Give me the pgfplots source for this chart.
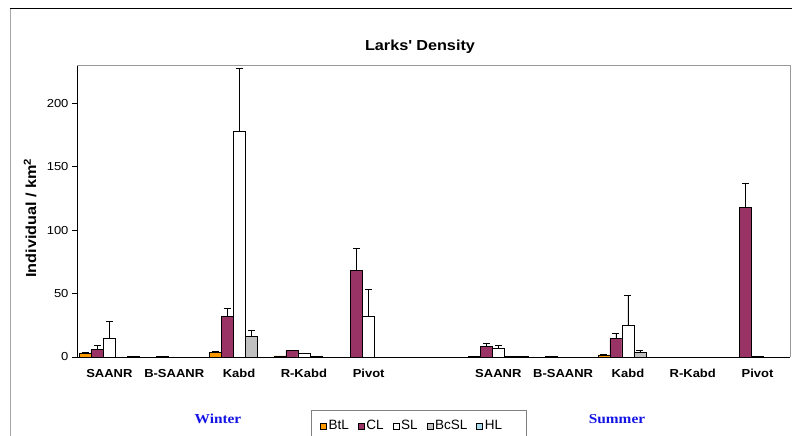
\documentclass[border=0pt]{standalone}
\usepackage{pgfplots}
\pgfplotsset{compat=1.18}
\usepackage{fontspec}
\setmainfont{Liberation Sans}[FakeStretch=1.12]
\newfontfamily\legendfont{Liberation Sans}
\newfontfamily\timesb{Liberation Serif}[FakeStretch=1.12]

\definecolor{btl}{HTML}{FF9900}
\definecolor{cl}{HTML}{993366}
\definecolor{bcsl}{HTML}{C0C0C0}
\definecolor{hl}{HTML}{A8DCEC}
\definecolor{season}{RGB}{20,20,230}

% upward error bars with a cap, as Excel draws them
\pgfplotsset{
  eb/.style={
    error bars/.cd,
      y dir=plus, y explicit,
      error bar style={black, line width=0.7pt},
      error mark options={rotate=90, black, line width=0.7pt, mark size=3.5pt},
  },
}

\begin{document}
\begin{tikzpicture}[x=1pt,y=1pt]
\path[use as bounding box] (0,0) rectangle (792,436);
\begin{scope}
\clip (0,0) rectangle (792,436);
% outer chart frame (cropped)
\draw[gray!70, line width=0.9pt] (10,-10) -- (10,428);
\draw[black, line width=0.9pt] (10,428) -- (800,428);

\node[font=\bfseries\fontsize{14.5}{16}\selectfont] at (420,389) {Larks\textquotesingle\ Density};
\node[rotate=90, font=\bfseries\fontsize{14.5}{16}\selectfont] at (30,218) {Individual / km\textsuperscript{2}};

% legend frame
\draw[gray, line width=0.6pt] (311,-10) rectangle (526,26);

\begin{axis}[
  at={(77pt,79pt)}, anchor=south west,
  width=713pt, height=292pt, scale only axis,
  ybar=0pt, bar width=0.1849,
  xmin=-0.5, xmax=10.5, ymin=0, ymax=230,
  clip=false,
  axis lines*=left,
  axis line style={black, line width=0.8pt},
  xtick={0,1,2,3,4,6,7,8,9,10},
  xticklabels={SAANR,B-SAANR,Kabd,R-Kabd,Pivot,SAANR,B-SAANR,Kabd,R-Kabd,Pivot},
  x tick style={draw=none},
  ytick={0,50,100,150,200},
  y tick style={black, line width=0.8pt},
  tick align=outside, major tick length=5pt,
  xticklabel style={font=\bfseries\fontsize{11.6}{13}\selectfont, yshift=-4pt},
  yticklabel style={font=\fontsize{11.6}{13}\selectfont},
  /pgf/number format/assume math mode=true,
  every axis plot/.append style={
    draw=black, line width=0.6pt,
    legend image code/.code={\draw[##1, line width=0.5pt] (0pt,-3pt) rectangle (6pt,3pt);},
  },
  legend style={
    at={(0.3408,-0.2363)}, anchor=west,
    legend columns=5, draw=none, fill=none,
    inner xsep=0pt, inner ysep=0pt,
    font=\legendfont\fontsize{13.5}{15}\selectfont,
    nodes={inner xsep=0pt, inner ysep=2pt},
    /tikz/every odd column/.append style={column sep=2pt},
    /tikz/every even column/.append style={column sep=9pt},
  },
]
% BtL
\addplot[fill=btl, bar shift=-0.3698, eb] coordinates {
  (0,3.2) +- (0,0.5)
  (2,3.9) +- (0,0.5)
  (8,1.6) +- (0,0.6)
};
\addplot[fill=btl, bar shift=-0.3698, forget plot] coordinates {(3,0.8) (6,0.3)};
% CL
\addplot[fill=cl, bar shift=-0.1849, eb] coordinates {
  (0,5.8) +- (0,3.4)
  (2,32) +- (0,6)
  (4,68.3) +- (0,17.5)
  (6,8.1) +- (0,2.7)
  (8,14.4) +- (0,3.9)
  (10,118) +- (0,19)
};
\addplot[fill=cl, bar shift=-0.1849, forget plot] coordinates {(1,0.3) (3,5.1) (7,0.3)};
% SL
\addplot[fill=white, bar shift=0, eb] coordinates {
  (0,15) +- (0,13.3)
  (2,178) +- (0,49.5)
  (4,32) +- (0,21.3)
  (6,6.5) +- (0,2.7)
  (8,25.2) +- (0,23.4)
};
\addplot[fill=white, bar shift=0, forget plot] coordinates {(3,2.6) (10,0.3)};
% BcSL
\addplot[fill=bcsl, bar shift=0.1849, eb] coordinates {
  (2,16.3) +- (0,4.4)
  (8,3.4) +- (0,1.9)
};
\addplot[fill=bcsl, bar shift=0.1849, forget plot] coordinates {(3,0.5) (6,0.3)};
% HL
\addplot[fill=hl, bar shift=0.3698] coordinates {(0,0.3) (6,0.3)};
\legend{BtL,CL,SL,BcSL,HL}
\draw[gray!80, line width=0.8pt] (rel axis cs:0,1) -- (rel axis cs:1,1) -- (rel axis cs:1,0);
\end{axis}

\node[text=season, font=\timesb\bfseries\fontsize{13.7}{15}\selectfont] at (218,17) {Winter};
\node[text=season, font=\timesb\bfseries\fontsize{13.7}{15}\selectfont] at (617,17) {Summer};
\end{scope}
\end{tikzpicture}
\end{document}
